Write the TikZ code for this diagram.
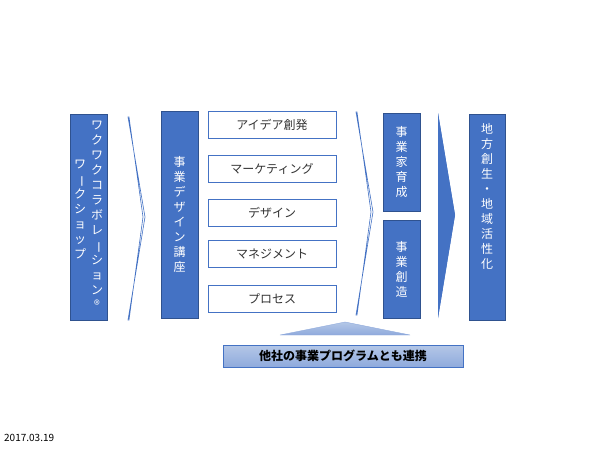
\documentclass[tikz,border=0pt]{standalone}
\usepackage{fontspec}
\setmainfont{Noto Sans CJK JP}
\newcommand{\vb}{\rotatebox[origin=c]{-90}{ー}}
\begin{document}
\begin{tikzpicture}[x=1pt,y=-1pt,
  bluebox/.style={fill=blue!40!cyan!10!white!0!black!0, draw=none},
  bb/.style={draw=edgeb,fill=mainb,line width=0.8pt},
  wb/.style={draw=mainb,fill=white,line width=0.8pt,minimum width=128pt,minimum height=27pt,font=\fontsize{12}{14}\selectfont,text=black!80},
  vt/.style={text=white,font=\fontsize{12}{15}\selectfont,align=center,inner sep=0pt},
  chev/.style={draw=mainb,fill=white,line width=0.6pt}]
\definecolor{mainb}{HTML}{4472C4}
\definecolor{edgeb}{HTML}{2F528F}
\definecolor{lb1}{HTML}{B4C7E7}
\definecolor{lb2}{HTML}{8FAADC}
\useasboundingbox (0,0) rectangle (600,450);
% left box
\draw[bb] (70,114) rectangle (107,320);
\node[vt,anchor=north] (w1) at (97,121) {ワ\\ク\\ワ\\ク\\コ\\ラ\\ボ\\レ\\\vb\\シ\\ョ\\ン\\®};
\node[vt,anchor=north] (w2) at (80,160) {ワ\\\vb\\ク\\シ\\ョ\\ッ\\プ};
% chevron 1
\draw[chev] (128,117) -- (145,217) -- (128,320) -- (129,320) -- (143,217) -- (129,117) -- cycle;
% box2
\draw[bb] (161,111) rectangle (198,318);
\node[vt] (jd) at (179.5,214) {事\\業\\デ\\ザ\\イ\\ン\\講\\座};
% white boxes
\node[wb] (a1) at (272,124.5) {アイデア創発};
\node[wb] (a2) at (272,168.5) {マーケティング};
\node[wb] (a3) at (272,212.5) {デザイン};
\node[wb] (a4) at (272,253.5) {マネジメント};
\node[wb] (a5) at (272,298.5) {プロセス};
% chevron 2
\draw[chev] (356,112) -- (373,212) -- (356,315) -- (357,315) -- (371,212) -- (357,112) -- cycle;
% boxes 3
\draw[bb] (383,113) rectangle (420,211);
\node[vt] (k1) at (401.5,162) {事\\業\\家\\育\\成};
\draw[bb] (383,220) rectangle (420,318);
\node[vt] (k2) at (401.5,269) {事\\業\\創\\造};
% solid arrow
\fill[mainb] (438,113) -- (455,215) -- (438,318) -- (441,215) -- cycle;
\fill[mainb] (438,113) -- (455,215) -- (438,318) -- cycle;
% final box
\draw[bb] (469,114) rectangle (505,320);
\node[vt,anchor=north] (f) at (487,123) {地\\方\\創\\生\\・\\地\\域\\活\\性\\化};
% triangle
\shade[top color=lb1,bottom color=lb2,draw=lb2] (280,335) -- (345,322) -- (410,335) -- cycle;
% bottom box
\node[draw=mainb,top color=lb1,bottom color=lb2,minimum width=240pt,minimum height=22pt,font=\fontsize{12}{14}\selectfont\bfseries,line width=0.8pt] (bt) at (343,356) {他社の事業プログラムとも連携};
\node[anchor=west,font=\fontsize{10}{12}\selectfont,inner sep=0pt] (dt) at (4,438) {2017.03.19};
\end{tikzpicture}
\end{document}
